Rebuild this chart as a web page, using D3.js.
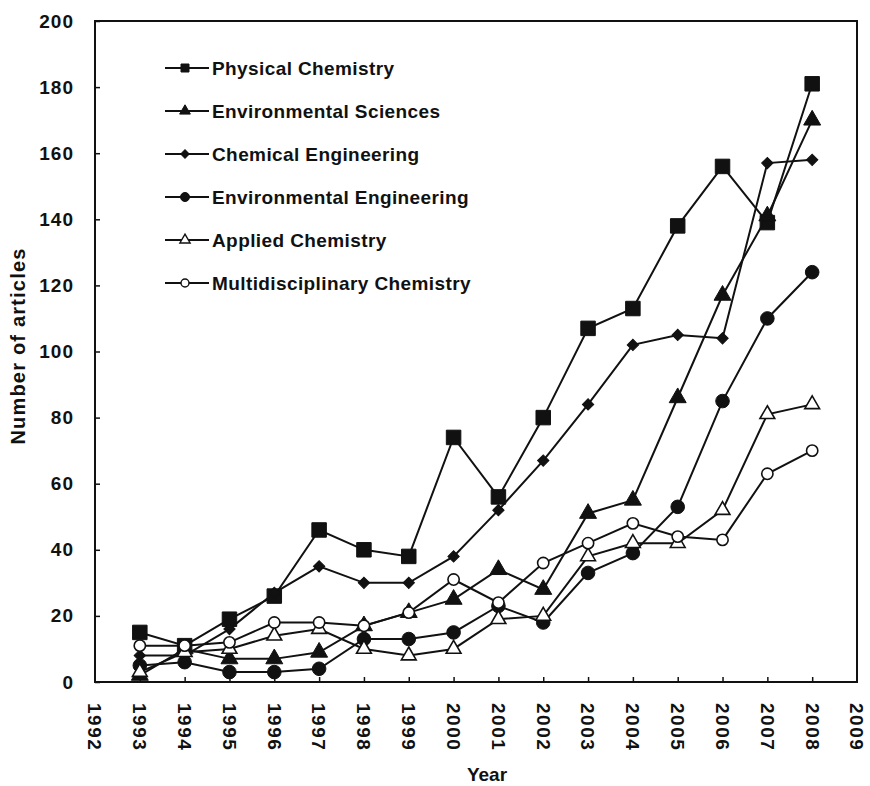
<!DOCTYPE html>
<html><head><meta charset="utf-8">
<script src="https://cdn.jsdelivr.net/npm/d3@7"></script>
<style>body{margin:0;background:#fff}text{font-family:"Liberation Sans",Arial,sans-serif;fill:#111}</style>
</head><body><svg id="c" width="870" height="786"></svg>
<script>
const years = [1993,1994,1995,1996,1997,1998,1999,2000,2001,2002,2003,2004,2005,2006,2007,2008];
const physicalChemistry      = [15,11,19,26,46,40,38,74,56,80,107,113,138,156,139,181];
const environmentalSciences  = [2,10,7,7,9,17,21,25,34,28,51,55,86,117,141,170];
const chemicalEngineering    = [8,8,16,27,35,30,30,38,52,67,84,102,105,104,157,158];
const environmentalEngineering = [5,6,3,3,4,13,13,15,23,18,33,39,53,85,110,124];
const appliedChemistry       = [3,9,10,14,16,10,8,10,19,20,38,42,42,52,81,84];
const multidisciplinaryChemistry = [11,11,12,18,18,17,21,31,24,36,42,48,44,43,63,70];
const seriesNames = ["Physical Chemistry","Environmental Sciences","Chemical Engineering","Environmental Engineering","Applied Chemistry","Multidisciplinary Chemistry"];
const xTickLabels = ["1992","1993","1994","1995","1996","1997","1998","1999","2000","2001","2002","2003","2004","2005","2006","2007","2008","2009"];
const yTickLabels = [0,20,40,60,80,100,120,140,160,180,200];

const seriesValues = [physicalChemistry,environmentalSciences,chemicalEngineering,environmentalEngineering,appliedChemistry,multidisciplinaryChemistry];
const markerStyles = [
  {type:d3.symbolSquare, size:210, lsize:64, fill:"#111", rot:0},
  {type:d3.symbolTriangle, size:125, lsize:50, fill:"#111", rot:0},
  {type:d3.symbolSquare, size:64, lsize:36, fill:"#111", rot:45},
  {type:d3.symbolCircle, size:145, lsize:64, fill:"#111", rot:0},
  {type:d3.symbolTriangle, size:95, lsize:45, fill:"#fff", rot:0},
  {type:d3.symbolCircle, size:100, lsize:50, fill:"#fff", rot:0}
];

const svg = d3.select("#c");
const L=95, R=857, T=21, B=682;
const x = d3.scaleLinear().domain([1992,2009]).range([L,R]);
const y = d3.scaleLinear().domain([0,200]).range([B,T]);

// box
svg.append("rect").attr("x",L).attr("y",T).attr("width",R-L).attr("height",B-T)
  .attr("fill","none").attr("stroke","#111").attr("stroke-width",2);

// y axis
const yAx = svg.append("g").attr("transform",`translate(${L},0)`)
  .call(d3.axisLeft(y).tickValues(yTickLabels).tickSizeInner(-5).tickSizeOuter(0).tickPadding(21));
yAx.select(".domain").remove();
yAx.selectAll("line").attr("stroke","#111").attr("stroke-width",1.5);
yAx.selectAll("text").style("font-size","19px").style("font-weight","bold").style("letter-spacing","1px").attr("fill","#111");

// x axis ticks (inside)
const xAx = svg.append("g").attr("transform",`translate(0,${B})`)
  .call(d3.axisBottom(x).tickValues(years).tickSizeInner(-5).tickSizeOuter(0).tickFormat(""));
xAx.select(".domain").remove();
xAx.selectAll("line").attr("stroke","#111").attr("stroke-width",1.5);

// x tick labels rotated
svg.append("g").selectAll("text").data(xTickLabels).join("text")
  .attr("transform",d=>`translate(${x(+d)},703) rotate(90)`)
  .attr("text-anchor","start").attr("dy","0.35em")
  .style("font-size","19px").style("font-weight","bold").style("letter-spacing","1.5px")
  .text(d=>d);

// axis titles
svg.append("text").attr("transform","translate(25,346) rotate(-90)").attr("text-anchor","middle")
  .style("font-size","20px").style("font-weight","bold").style("letter-spacing","1.2px").text("Number of articles");
svg.append("text").attr("x",487).attr("y",781).attr("text-anchor","middle")
  .style("font-size","19px").style("font-weight","bold").text("Year");

// series
const line = d3.line().x((d,i)=>x(years[i])).y(d=>y(d));
seriesValues.forEach((vals,k)=>{
  const g = svg.append("g");
  g.append("path").datum(vals).attr("d",line).attr("fill","none").attr("stroke","#111").attr("stroke-width",2);
  const m = markerStyles[k];
  g.selectAll("path.m").data(vals).join("path").attr("class","m")
    .attr("d",d3.symbol().type(m.type).size(m.size))
    .attr("transform",(d,i)=>`translate(${x(years[i])},${y(d)}) rotate(${m.rot})`)
    .attr("fill",m.fill).attr("stroke","#111").attr("stroke-width",m.fill==="#fff"?1.6:1);
});

// legend
const lg = svg.append("g");
seriesNames.forEach((name,k)=>{
  const yy = 68 + k*43;
  const m = markerStyles[k];
  lg.append("line").attr("x1",165).attr("x2",209).attr("y1",yy).attr("y2",yy).attr("stroke","#111").attr("stroke-width",2);
  lg.append("path").attr("d",d3.symbol().type(m.type).size(m.lsize))
    .attr("transform",`translate(185,${yy}) rotate(${m.rot})`)
    .attr("fill",m.fill).attr("stroke","#111").attr("stroke-width",m.fill==="#fff"?1.4:1);
  lg.append("text").attr("x",212).attr("y",yy).attr("dy","0.36em")
    .style("font-size","19px").style("font-weight","bold").style("letter-spacing","0.4px").text(name);
});
</script></body></html>
